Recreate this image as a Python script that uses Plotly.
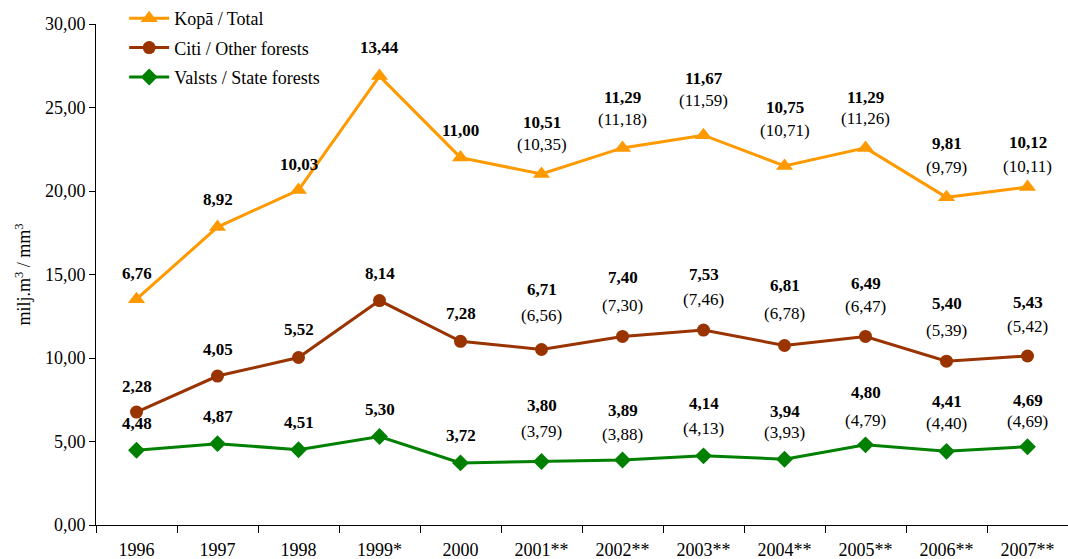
import plotly.graph_objects as go

years = ["1996", "1997", "1998", "1999*", "2000", "2001**", "2002**", "2003**",
         "2004**", "2005**", "2006**", "2007**"]
state = [4.48, 4.87, 4.51, 5.30, 3.72, 3.80, 3.89, 4.14, 3.94, 4.80, 4.41, 4.69]
other = [2.28, 4.05, 5.52, 8.14, 7.28, 6.71, 7.40, 7.53, 6.81, 6.49, 5.40, 5.43]
total = [6.76, 8.92, 10.03, 13.44, 11.00, 10.51, 11.29, 11.67, 10.75, 11.29, 9.81, 10.12]
# values in parentheses (from 2001)
state_alt = [None, None, None, None, None, 3.79, 3.88, 4.13, 3.93, 4.79, 4.40, 4.69]
other_alt = [None, None, None, None, None, 6.56, 7.30, 7.46, 6.78, 6.47, 5.39, 5.42]
total_alt = [None, None, None, None, None, 10.35, 11.18, 11.59, 10.71, 11.26, 9.79, 10.11]

# label pixel offsets above each point (styling)
state_shift = [27, 27, 27, 27, 27, 56, 50, 52, 48, 52, 50, 46]
state_alt_shift = [0, 0, 0, 0, 0, 30, 26, 27, 27, 24, 28, 25]
other_shift = [26, 27, 28, 27, 28, 60, 59, 56, 60, 53, 58, 54]
other_alt_shift = [0, 0, 0, 0, 0, 34, 31, 31, 32, 30, 31, 30]
total_shift = [26, 28, 26, 29, 27, 51, 50, 57, 58, 50, 54, 44]
total_alt_shift = [0, 0, 0, 0, 0, 29, 28, 35, 35, 29, 30, 20]

FONT = "Liberation Serif"
ORANGE = "#FF9900"
BROWN = "#993300"
GREEN = "#008000"

fig = go.Figure()
fig.add_trace(go.Scatter(x=years, y=state, name="Valsts / State forests", stackgroup="s",
                         fill="none", mode="lines+markers", legendrank=3, legendgroup="c",
                         line=dict(color=GREEN, width=3),
                         marker=dict(symbol="diamond", size=13, color=GREEN)))
fig.add_trace(go.Scatter(x=years, y=other, name="Citi / Other forests", stackgroup="s",
                         fill="none", mode="lines+markers", legendrank=2, legendgroup="b",
                         line=dict(color=BROWN, width=3),
                         marker=dict(symbol="circle", size=13, color=BROWN)))
fig.add_trace(go.Scatter(x=years, y=total, name="Kopā / Total", stackgroup="s",
                         fill="none", mode="lines+markers", legendrank=1, legendgroup="a",
                         line=dict(color=ORANGE, width=3),
                         marker=dict(symbol="triangle-up", size=15, color=ORANGE)))


def fmt(v):
    return f"{v:.2f}".replace(".", ",")


annotations = []
for i, yr in enumerate(years):
    levels = [
        (state[i], state[i], state_alt[i], state_shift[i], state_alt_shift[i]),
        (state[i] + other[i], other[i], other_alt[i], other_shift[i], other_alt_shift[i]),
        (state[i] + other[i] + total[i], total[i], total_alt[i], total_shift[i], total_alt_shift[i]),
    ]
    for ypos, val, alt, sh, ash in levels:
        annotations.append(dict(x=i, y=ypos, xref="x", yref="y", text="<b>" + fmt(val) + "</b>",
                                showarrow=False, yshift=sh, font=dict(family=FONT, size=17, color="black")))
        if alt is not None:
            annotations.append(dict(x=i, y=ypos, xref="x", yref="y", text="(" + fmt(alt) + ")",
                                    showarrow=False, yshift=ash, font=dict(family=FONT, size=17, color="black")))

fig.update_layout(
    width=1068, height=559,
    margin=dict(l=96, r=0, t=24, b=34),
    paper_bgcolor="white", plot_bgcolor="white",
    font=dict(family=FONT, size=18, color="black"),
    separators=", ",
    showlegend=True,
    legend=dict(x=0.029, y=1.048, xanchor="left", yanchor="top", traceorder="grouped",
                tracegroupgap=3, itemwidth=40, bgcolor="rgba(0,0,0,0)", font=dict(family=FONT, size=18)),
    annotations=annotations,
    xaxis=dict(type="category", range=[-0.5, 11.5], autorange=False, automargin=False,
               showline=True, linecolor="black", linewidth=1,
               ticks="outside", tickson="boundaries", ticklen=7, tickcolor="black",
               ticklabelstandoff=8,
               showgrid=False, zeroline=False, tickangle=0, tickfont=dict(family=FONT, size=18)),
    yaxis=dict(range=[0, 30], autorange=False, automargin=False,
               tickvals=[0, 5, 10, 15, 20, 25, 30], tickformat=".2f",
               showline=True, linecolor="black", linewidth=1, ticks="outside", ticklen=6,
               tickcolor="black", showgrid=False, zeroline=False,
               tickfont=dict(family=FONT, size=18),
               title=dict(text="milj.m<sup>3</sup> / mm<sup>3</sup>", font=dict(family=FONT, size=18),
                          standoff=9)),
)

fig.write_html("out.html", config={"displayModeBar": False},
               post_script="document.body.style.margin='0';document.body.style.overflow='hidden';")
